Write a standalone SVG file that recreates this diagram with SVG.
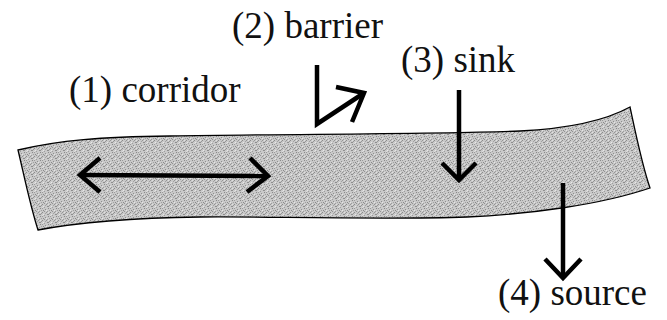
<svg xmlns="http://www.w3.org/2000/svg" width="667" height="320" viewBox="0 0 667 320">
  <style>
    .arr { fill: none; stroke: #000; stroke-width: 4.5; stroke-linecap: butt; stroke-linejoin: miter; }
  </style>
  <defs>
    <!-- stippled halftone tile for the strip -->
    <pattern id="stipple" x="0" y="0" width="8" height="8" patternUnits="userSpaceOnUse">
      <rect width="8" height="8" fill="#c9c9c9"/>
      <rect x="0" y="0" width="1" height="1" fill="#8a8a8a"/>
      <rect x="2" y="0" width="1" height="1" fill="#9a9a9a"/>
      <rect x="5" y="1" width="1" height="1" fill="#8f8f8f"/>
      <rect x="1" y="2" width="1" height="1" fill="#a0a0a0"/>
      <rect x="3" y="2" width="1" height="1" fill="#8a8a8a"/>
      <rect x="6" y="2" width="1" height="1" fill="#e6e6e6"/>
      <rect x="4" y="3" width="1" height="1" fill="#939393"/>
      <rect x="7" y="3" width="1" height="1" fill="#9c9c9c"/>
      <rect x="0" y="4" width="1" height="1" fill="#e0e0e0"/>
      <rect x="2" y="4" width="1" height="1" fill="#8c8c8c"/>
      <rect x="6" y="4" width="1" height="1" fill="#959595"/>
      <rect x="1" y="5" width="1" height="1" fill="#979797"/>
      <rect x="5" y="5" width="1" height="1" fill="#a3a3a3"/>
      <rect x="3" y="6" width="1" height="1" fill="#e8e8e8"/>
      <rect x="0" y="6" width="1" height="1" fill="#909090"/>
      <rect x="7" y="6" width="1" height="1" fill="#8d8d8d"/>
      <rect x="4" y="7" width="1" height="1" fill="#9e9e9e"/>
      <rect x="2" y="7" width="1" height="1" fill="#dcdcdc"/>
    </pattern>
    <path id="strip-shape" d="M18,150 C60,140 100,137 170,136 C300,134 450,134 520,131 C580,128 610,118 630,107 C636,135 642,165 650,188 C600,205 530,214 467,217 C380,220 250,216 200,217 C130,218 80,222 38,230 C30,205 24,175 18,150 Z"/>
  </defs>

  <!-- the habitat strip -->
  <g id="strip">
    <use href="#strip-shape" fill="url(#stipple)" stroke="#000" stroke-width="1.3"/>
  </g>

  <g id="connectors">
    <!-- (1) movement along the corridor -->
    <g id="corridor-arrow">
      <path class="arr" d="M80,175 L268,176"/>
      <path class="arr" d="M100,158 L80,175 L100,192"/>
      <path class="arr" d="M250,158 L268,176 L247,192"/>
    </g>
    <!-- (2) deflected at the barrier -->
    <g id="barrier-arrow">
      <path class="arr" d="M317,65 L317,124 L364,93"/>
      <path class="arr" d="M336,87 L364,93 L352,122"/>
    </g>
    <!-- (3) into the sink -->
    <g id="sink-arrow">
      <path class="arr" d="M459,90 L459,180"/>
      <path class="arr" d="M442,163 L459,180 L476,163"/>
    </g>
    <!-- (4) out of the source -->
    <g id="source-arrow">
      <path class="arr" d="M563,183 L563,278"/>
      <path class="arr" d="M545,259 L563,278 L581,259"/>
    </g>
  </g>

  <g font-family="Liberation Serif, serif" font-size="37" fill="#111">
    <g id="label-corridor"><text x="69" y="102">(1) corridor</text></g>
    <g id="label-barrier"><text x="232" y="38">(2) barrier</text></g>
    <g id="label-sink"><text x="401" y="72">(3) sink</text></g>
    <g id="label-source"><text x="498" y="305">(4) source</text></g>
  </g>
</svg>
